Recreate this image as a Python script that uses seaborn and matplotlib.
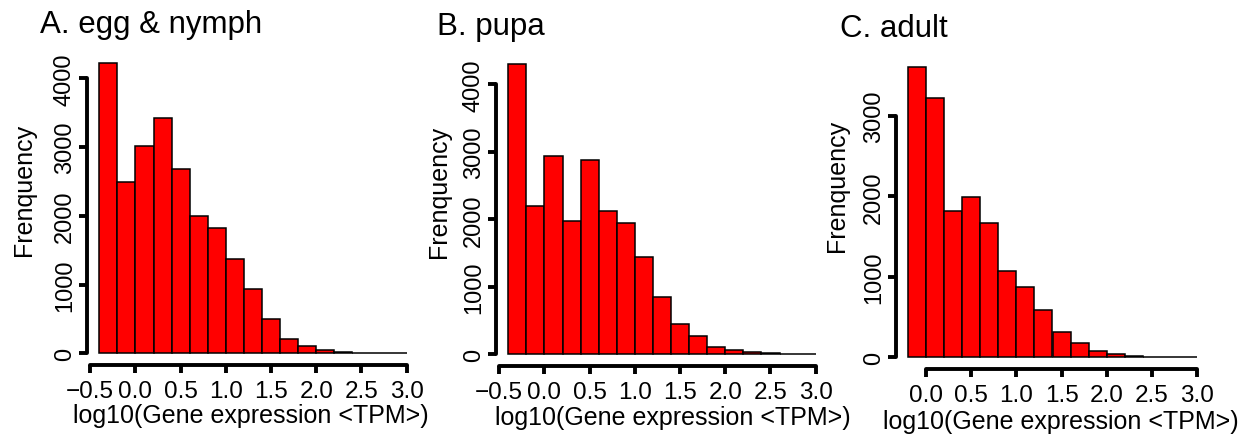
import numpy as np
import pandas as pd
import matplotlib
matplotlib.use("Agg")
import matplotlib.pyplot as plt
from matplotlib.ticker import FuncFormatter
import seaborn as sns

# bin widths and starting edges of the three histograms (log10 TPM)
bin_width = 0.2
egg_start = -0.4
pupa_start = -0.4
adult_start = -0.2

# counts per bin
egg_counts = [4230, 2500, 3017, 3420, 2689, 2000, 1817, 1366, 935, 499,
              205, 100, 48, 23, 10, 6, 3]
pupa_counts = [4307, 2203, 2933, 1981, 2884, 2129, 1941, 1437, 855, 450,
               267, 104, 59, 30, 15, 8, 4]
adult_counts = [3611, 3221, 1824, 1990, 1663, 1078, 874, 593, 320, 178,
                80, 38, 17, 10, 6, 3]

titles = ["A. egg & nymph", "B. pupa", "C. adult"]
x_ticks = [[-0.5, 0.0, 0.5, 1.0, 1.5, 2.0, 2.5, 3.0],
           [-0.5, 0.0, 0.5, 1.0, 1.5, 2.0, 2.5, 3.0],
           [0.0, 0.5, 1.0, 1.5, 2.0, 2.5, 3.0]]
y_ticks = [[0, 1000, 2000, 3000, 4000],
           [0, 1000, 2000, 3000, 4000],
           [0, 1000, 2000, 3000]]

sns.set_theme(style="white")
plt.rcParams["font.family"] = ["Liberation Sans", "DejaVu Sans"]
plt.rcParams["text.color"] = "black"
plt.rcParams["axes.labelcolor"] = "black"
plt.rcParams["xtick.color"] = "black"
plt.rcParams["ytick.color"] = "black"

W, H = 1245, 435
fig = plt.figure(figsize=(W / 100, H / 100), dpi=100)


def box(l, t, r, b):
    return [l / W, 1 - b / H, (r - l) / W, (b - t) / H]


def fmt(v, pos):
    return f"{v:.1f}".replace("-", "\u2212")


# plot regions in pixels (left, top, right, bottom)
boxes = [box(87, 52, 419, 366), box(496, 53, 828, 367), box(896, 56, 1209, 370)]
title_pos = [(40, 33), (437, 35), (840, 37)]
ylab_pos = [(24, 190), (439, 192), (837, 186)]
xlab_pos = [(251, 416), (673, 418), (1061, 422)]

panels = [(egg_start, egg_counts), (pupa_start, pupa_counts), (adult_start, adult_counts)]

for i, (start, counts) in enumerate(panels):
    ax = fig.add_axes(boxes[i])
    edges = [round(start + bin_width * k, 2) for k in range(len(counts) + 1)]
    df = pd.DataFrame({
        "tpm": [(a + b) / 2 for a, b in zip(edges[:-1], edges[1:])],
        "n": counts,
    })
    sns.histplot(data=df, x="tpm", weights="n", bins=edges, color="#ff0000",
                 edgecolor="black", linewidth=1.1, alpha=1, ax=ax)

    # R-like 4% padding
    lo, hi = edges[0], edges[-1]
    ax.set_xlim(lo - 0.04 * (hi - lo), hi + 0.04 * (hi - lo))
    ymax = max(counts)
    ax.set_ylim(-0.04 * ymax, 1.04 * ymax)

    for s in ["top", "right"]:
        ax.spines[s].set_visible(False)
    for s in ["left", "bottom"]:
        ax.spines[s].set_linewidth(2.8)
        ax.spines[s].set_color("black")
        ax.spines[s].set_capstyle("round")
    ax.spines["left"].set_bounds(y_ticks[i][0], y_ticks[i][-1])
    ax.spines["bottom"].set_bounds(x_ticks[i][0], x_ticks[i][-1])

    ax.set_xticks(x_ticks[i])
    ax.xaxis.set_major_formatter(FuncFormatter(fmt))
    ax.set_yticks(y_ticks[i])
    ax.set_yticklabels([str(v) for v in y_ticks[i]], rotation=90, va="center")
    ax.tick_params(axis="both", direction="out", length=6, width=2.8,
                   colors="black", left=True, bottom=True)
    ax.tick_params(axis="x", pad=4.5, labelsize=17.5)
    ax.tick_params(axis="y", pad=2, labelsize=17)

    ax.set_xlabel("log10(Gene expression <TPM>)", fontsize=18)
    ax.set_ylabel("Frenquency", fontsize=18)
    ax.xaxis.label.set_verticalalignment("center")
    ax.yaxis.label.set_verticalalignment("center")
    ax.xaxis.set_label_coords(xlab_pos[i][0] / W, 1 - xlab_pos[i][1] / H,
                              transform=fig.transFigure)
    ax.yaxis.set_label_coords(ylab_pos[i][0] / W, 1 - ylab_pos[i][1] / H,
                              transform=fig.transFigure)

    fig.text(title_pos[i][0] / W, 1 - title_pos[i][1] / H, titles[i],
             fontsize=22.5, ha="left", va="baseline")

fig.savefig("out.png", dpi=100, facecolor="white")
